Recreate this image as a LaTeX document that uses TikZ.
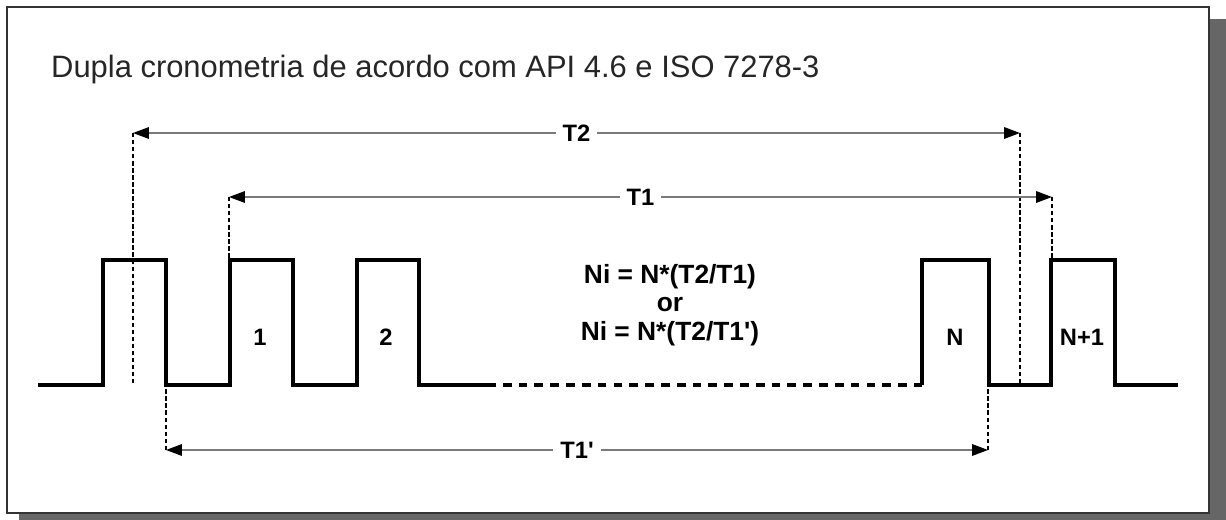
\documentclass[tikz,border=0pt]{standalone}
\usepackage{fontspec}
\setmainfont{Liberation Sans}
\usepackage{tikz}
\usetikzlibrary{arrows.meta,calc}
\definecolor{cDim}{HTML}{7A7A7A}
\definecolor{cShadow}{HTML}{666666}
\definecolor{cFrame}{HTML}{333333}
\tikzset{
  wave/.style   ={line width=2pt, draw=black, line join=miter},
  dotwave/.style={line width=2pt, draw=black, dash pattern=on 5pt off 4pt},
  guide/.style  ={line width=1pt, draw=black, dash pattern=on 2.5pt off 1.5pt},
  dimarrow/.style={{Triangle[length=9pt,width=6.5pt,color=black]}-{Triangle[length=9pt,width=6.5pt,color=black]},
                   line width=0.9pt, draw=cDim},
  lbl/.style    ={font=\bfseries\fontsize{13.5}{16}\selectfont, inner sep=1pt},
  dimlbl/.style ={lbl, fill=white, inner sep=4pt},
  formula/.style={lbl, font=\bfseries\fontsize{15}{16.2}\selectfont, align=center},
}

\begin{document}
\begin{tikzpicture}[x=0.02cm, y=-0.02cm]
  \useasboundingbox (0,0) rectangle (1226,520);
  % frame and its shadow
  \fill[cShadow] (19,19) rectangle (1240,540);
  \draw[cFrame, line width=1.2pt, fill=white] (7,7) rectangle (1209,513);
  \node[anchor=base west, font=\fontsize{17.6}{21}\selectfont, text=black!85] (title) at (45,78)
    {Dupla cronometria de acordo com API 4.6 e ISO 7278-3};

  % levels of the pulse train
  \coordinate (lo) at (0,385);
  \coordinate (hi) at (0,260);

  % pulse train
  \draw[wave] (38,385) -| (103,260) -| (166,385) -| (230,260) -| (293,385)
              -| (357,260) -| (419,385) -- (487,385);
  \draw[dotwave] (487,385) -- (922,385);
  \draw[wave] (922,385) |- (989,260) -- (989,385) -| (1051,260) -| (1115,385) -- (1178,385);

  % timing marks
  \coordinate (t2a)  at (133,133);  \coordinate (t2b)  at (1020,133);
  \coordinate (t1a)  at (229,197);  \coordinate (t1b)  at (1052,197);
  \coordinate (t1pa) at (166,450);  \coordinate (t1pb) at (988,450);

  \draw[guide] (t2a) -- (t2a |- lo);   \draw[guide] (t2b) -- (t2b |- lo);
  \draw[guide] (t1a) -- (t1a |- hi);   \draw[guide] (t1b) -- (t1b |- hi);
  \draw[guide] (t1pa) -- (t1pa |- lo); \draw[guide] (t1pb) -- (t1pb |- lo);

  \draw[dimarrow] (t2a) -- (t2b) node[dimlbl, midway] (lT2) {T2};
  \draw[dimarrow] (t1a) -- (t1b) node[dimlbl, midway] (lT1) {T1};
  \draw[dimarrow] (t1pa) -- (t1pb) node[dimlbl, midway] (lT1p) {T1\textquotesingle};

  % pulse numbers
  \node[lbl] (n1)  at (260,337) {1};
  \node[lbl] (n2)  at (386,337) {2};
  \node[lbl] (nN)  at (955,337) {N};
  \node[lbl] (nN1) at (1082,337) {N+1};

  \node[formula] (ni) at (670,305) {Ni = N*(T2/T1)\\or\\Ni = N*(T2/T1\textquotesingle)};
\end{tikzpicture}
\end{document}
